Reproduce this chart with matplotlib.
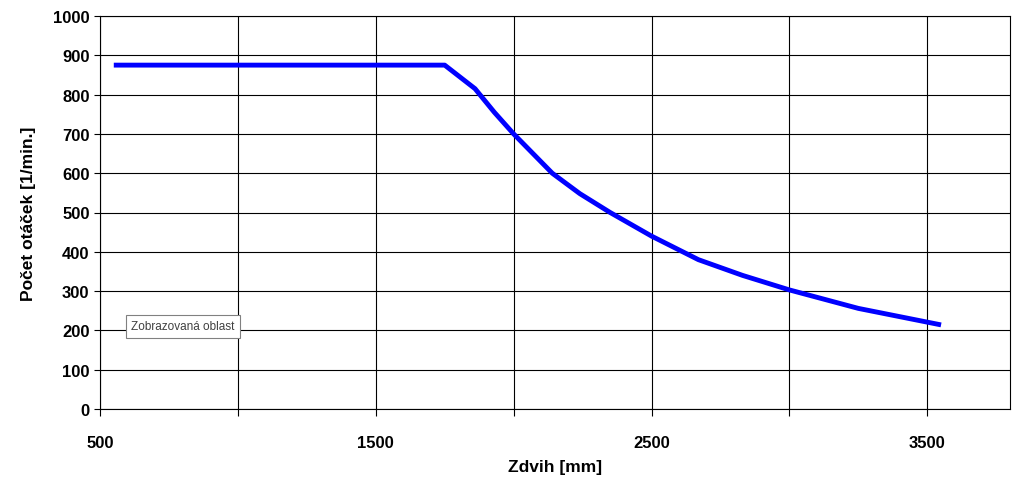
import matplotlib
matplotlib.use("Agg")
import matplotlib.pyplot as plt

zdvih = [550, 1750, 1860, 1930, 2000, 2070, 2140, 2240, 2350, 2500, 2670, 2830, 3000, 3250, 3550]
otacky = [875, 875, 815, 755, 700, 650, 600, 548, 500, 440, 380, 340, 303, 256, 214]
xticks = [500, 1000, 1500, 2000, 2500, 3000, 3500]
xlabels = ["500", "", "1500", "", "2500", "", "3500"]

plt.rcParams['font.family'] = ['Liberation Sans', 'DejaVu Sans']
fig = plt.figure(figsize=(10.23, 4.85), dpi=100)
ax = fig.add_axes([100/1023, 75/485, 910/1023, 393/485])
ax.plot(zdvih, otacky, color='#0000ff', lw=3.5, solid_capstyle='butt')
ax.set_xlim(500, 3800)
ax.set_ylim(0, 1000)
ax.set_xticks(xticks)
ax.set_xticklabels(xlabels, fontweight='bold', fontsize=12)
ax.set_yticks(range(0, 1001, 100))
ax.set_yticklabels([str(v) for v in range(0, 1001, 100)], fontweight='bold', fontsize=12)
ax.grid(True, color='black', lw=0.8)
ax.tick_params(axis='x', direction='out', length=5, pad=14)
ax.tick_params(axis='y', direction='out', length=4)
for s in ax.spines.values():
    s.set_linewidth(0.8)
ax.set_xlabel("Zdvih [mm]", fontweight='bold', fontsize=12.5, labelpad=6)
ax.set_ylabel("Počet otáček [1/min.]", fontweight='bold', fontsize=12.5, labelpad=12)
ax.text(0.034, 0.203, "Zobrazovaná oblast", transform=ax.transAxes, fontsize=8.5,
        color='#404040',
        bbox=dict(boxstyle='square,pad=0.45', fc='white', ec='#808080', lw=0.8))
fig.savefig("out.png", dpi=100)
